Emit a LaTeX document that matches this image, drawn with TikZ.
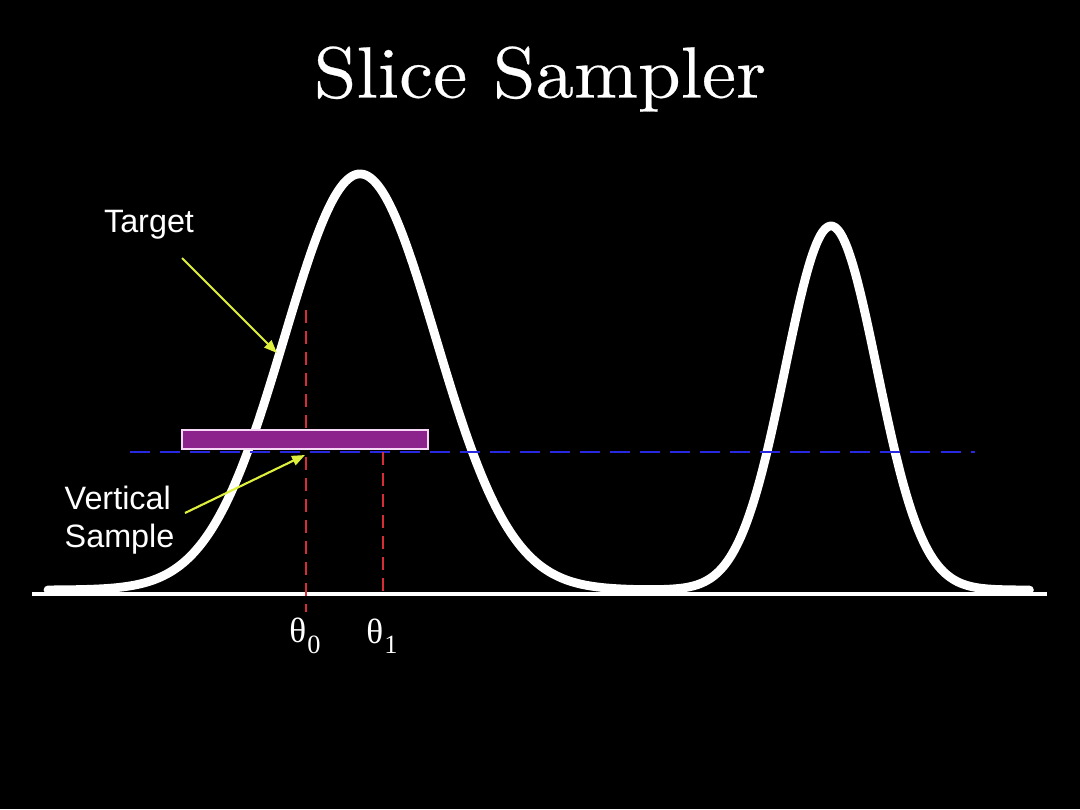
\documentclass[tikz,border=0pt]{standalone}
\usepackage{fontspec}
\newfontfamily\lblfont{Liberation Sans}
\newfontfamily\thfont{Liberation Serif}
\newfontfamily\titlefont{lmroman10-regular}[Extension=.otf, FakeStretch=1.06, FakeBold=0.35]
\usetikzlibrary{arrows.meta}
\definecolor{slicepurple}{RGB}{140,35,140}
\definecolor{sliceborder}{RGB}{245,215,245}
\definecolor{arrowyellow}{RGB}{222,240,60}
\definecolor{levelblue}{RGB}{40,40,225}
\definecolor{markred}{RGB}{215,45,55}
\tikzset{
  titletext/.style={text=white, font=\titlefont\fontsize{20.6}{25}\selectfont, inner sep=0pt},
  lbl/.style={text=white, font=\lblfont\fontsize{9.2}{11}\selectfont, inner sep=0pt},
  thlbl/.style={text=white, font=\thfont\fontsize{10}{12}\selectfont, inner sep=0pt},
  curve/.style={white, line width=2.5pt, line join=round, line cap=round},
  axisline/.style={white, line width=1.2pt},
  leveldash/.style={levelblue, line width=0.6pt, dash pattern=on 0.2cm off 0.1cm},
  reddash/.style={markred, line width=0.75pt, dash pattern=on 0.13cm off 0.08cm},
  slicebox/.style={fill=slicepurple, draw=sliceborder, line width=0.7pt},
  pointer/.style={arrowyellow, line width=0.6pt, -{Triangle[length=0.13cm, width=0.1cm]}}
}
\begin{document}
\begin{tikzpicture}[x=0.01cm, y=-0.01cm]
\fill[black] (0,0) rectangle (1080,809);
\useasboundingbox (0,0) rectangle (1080,809);
% axis
\draw[axisline] (32,594) -- (1047,594);
% target density
\draw[curve] plot[domain=0.48:10.3, samples=400, variable=\t, smooth]
  ({100*\t}, {590 - 416*exp(-((\t-3.6)^2)/(2*0.757^2)) - 364*exp(-((\t-8.31)^2)/(2*0.46^2))});
% slice level
\draw[leveldash] (130,452) -- (975,452);
% theta markers
\coordinate (th0top) at (306,310);
\coordinate (th0bot) at (306,612);
\coordinate (th1top) at (383,452);
\coordinate (th1bot) at (383,594);
\draw[reddash] (th0top) -- (th0bot);
\draw[reddash] (th1top) -- (th1bot);
% slice box
\node[slicebox, minimum width=2.46cm, minimum height=0.19cm, inner sep=0pt] (slice) at (305,439.5) {};
% labels
\node[titletext] (title) at (540,79) {Slice Sampler};
\node[lbl] (target) at (149,225) {Target};
\node[lbl, anchor=west, align=left] (vs) at (64,520) {Vertical\\Sample};
\node[thlbl] (th0) at (305,636) {θ\kern0.3pt\raisebox{-0.3em}{\fontsize{7.5}{8}\selectfont 0}};
\node[thlbl] (th1) at (382,636) {θ\kern0.3pt\raisebox{-0.3em}{\fontsize{7.5}{8}\selectfont 1}};
% pointers
\coordinate (tstart) at (182,258);
\coordinate (tend) at (277,353);
\coordinate (vstart) at (185,513);
\coordinate (vend) at (305,455);
\draw[pointer] (tstart) -- (tend);
\draw[pointer] (vstart) -- (vend);
\end{tikzpicture}
\end{document}
